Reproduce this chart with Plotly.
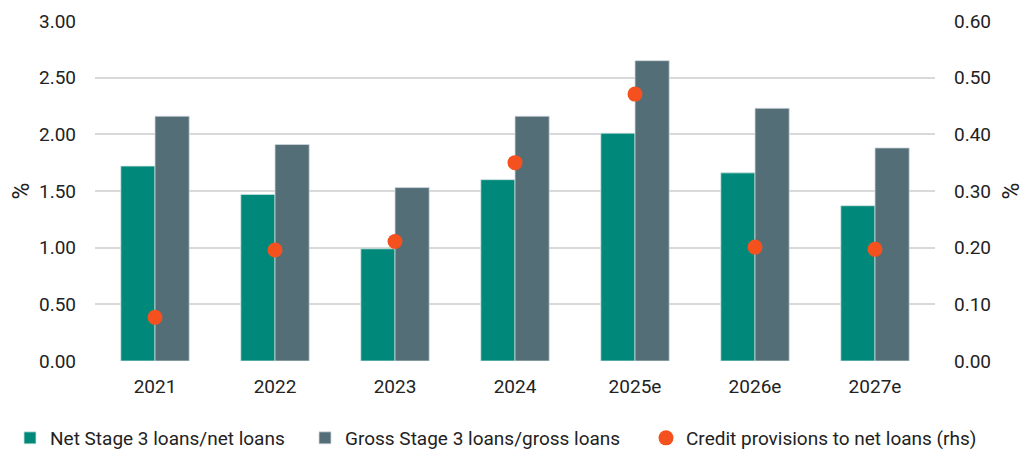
import plotly.graph_objects as go

years = ["2021", "2022", "2023", "2024", "2025e", "2026e", "2027e"]
net_stage3 = [1.72, 1.47, 0.99, 1.60, 2.01, 1.66, 1.37]
gross_stage3 = [2.16, 1.91, 1.53, 2.16, 2.65, 2.23, 1.88]
provisions = [0.077, 0.196, 0.211, 0.350, 0.471, 0.201, 0.197]

left_ticks = [0, 0.5, 1.0, 1.5, 2.0, 2.5, 3.0]
right_ticks = [0, 0.1, 0.2, 0.3, 0.4, 0.5, 0.6]

# the page body has an 8px margin, so the figure is shrunk and shifted to match
OFF = 8
W, H = 1035 - OFF, 452 - OFF
L, T = 95 - OFF, 21 - OFF
pw, ph = 840, 340
R, B = W - L - pw, H - T - ph

def px_x(x):
    # page pixel -> paper x
    return (x - OFF - L) / pw

def px_y(y):
    return (T + ph - (y - OFF)) / ph

fig = go.Figure()
fig.add_trace(go.Bar(x=years, y=net_stage3, name="Net Stage 3 loans/net loans", legend="legend",
                     marker=dict(color="#00897B", line=dict(color="#cfe3e0", width=0.8))))
fig.add_trace(go.Bar(x=years, y=gross_stage3, name="Gross Stage 3 loans/gross loans", legend="legend2",
                     marker=dict(color="#546E78", line=dict(color="#cfd8dc", width=0.8))))
fig.add_trace(go.Scatter(x=years, y=provisions, name="Credit provisions to net loans (rhs)",
                         mode="markers", yaxis="y2", legend="legend3",
                         marker=dict(color="#F4511E", size=15)))

font = dict(family="Roboto, Inter, sans-serif", size=19, color="#222")
leg = dict(orientation="h", yanchor="middle", xanchor="left", y=px_y(438),
           font=dict(size=19), itemwidth=30, bgcolor="rgba(0,0,0,0)")

fig.update_layout(
    width=W, height=H,
    margin=dict(l=L, r=R, t=T, b=B, autoexpand=False),
    plot_bgcolor="white", paper_bgcolor="white",
    font=font,
    barmode="group", bargap=0.43, bargroupgap=0,
    xaxis=dict(showgrid=False, ticks="", automargin=False, ticklabelstandoff=12),
    yaxis=dict(range=[0, 3.0], tickvals=left_ticks, tickformat=".2f",
               gridcolor="#d9d9d9", gridwidth=1.5, zeroline=False, automargin=False,
               title=dict(text="%", standoff=5), ticklabelstandoff=18),
    yaxis2=dict(range=[0, 0.6], tickvals=right_ticks, tickformat=".2f",
                overlaying="y", side="right", showgrid=False, zeroline=False, automargin=False,
                title=dict(text="%", standoff=12), ticklabelstandoff=18),
    legend=dict(leg, x=px_x(51 - 41)),
    legend2=dict(leg, x=px_x(346 - 41)),
    legend3=dict(leg, x=px_x(687 - 41)),
    showlegend=True,
)

fig.write_html("out.html")
